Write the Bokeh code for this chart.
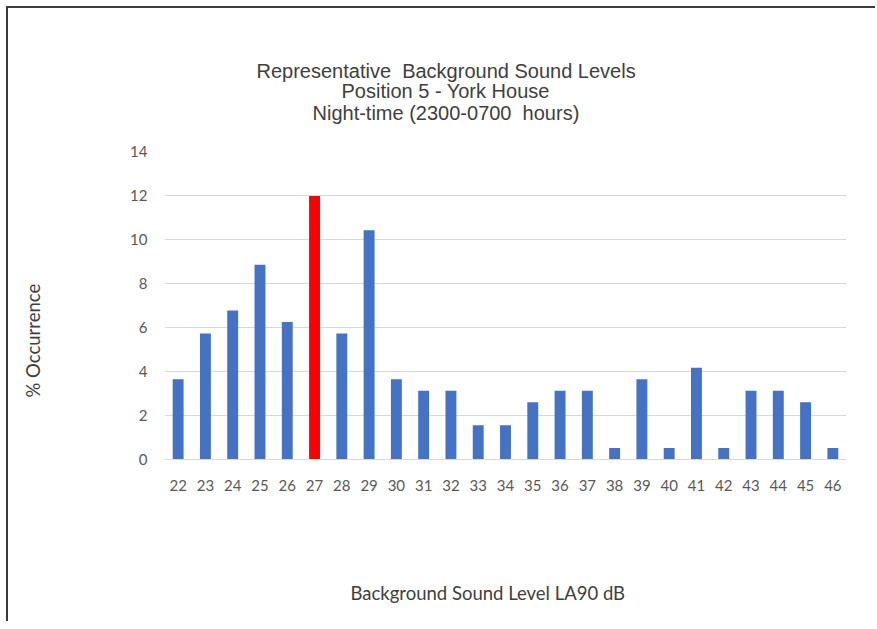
from bokeh.plotting import figure
from bokeh.models import ColumnDataSource, FactorRange, Title, SingleIntervalTicker
from bokeh.embed import file_html
from bokeh.resources import INLINE

# Background sound level bins (LA90, dB) and percentage of night-time samples
levels = ["22", "23", "24", "25", "26", "27", "28", "29", "30", "31", "32", "33", "34",
          "35", "36", "37", "38", "39", "40", "41", "42", "43", "44", "45", "46"]
occurrence = [3.65, 5.73, 6.77, 8.85, 6.25, 11.98, 5.73, 10.42, 3.65, 3.13, 3.13, 1.56, 1.56,
              2.60, 3.13, 3.13, 0.52, 3.65, 0.52, 4.17, 0.52, 3.13, 3.13, 2.60, 0.52]
representative = "27"

title_lines = ["Representative\u00a0 Background Sound Levels",
               "Position 5 - York House",
               "Night-time (2300-0700\u00a0 hours)"]
# left offsets (px from plot-area edge) that centre each heading line on the chart
title_offsets = [92, 177, 148]

x_title = "Background Sound Level LA90 dB"
y_title = "% Occurrence"

BLUE = "#4472C4"
RED = "#FF0000"
colors = [RED if lv == representative else BLUE for lv in levels]

source = ColumnDataSource(dict(level=levels, pct=occurrence, color=colors))

p = figure(
    width=869, height=615,
    x_range=FactorRange(factors=levels, range_padding=0),
    y_range=(0, 14),
    output_backend="svg", toolbar_location=None,
    min_border_left=156, min_border_right=31,
    min_border_top=143, min_border_bottom=164,
)
p.title.visible = False
# chart frame drawn as a border on the plot's host element
p.styles = {"border-left": "2px solid #3a3a3a", "border-top": "2px solid #3a3a3a",
            "margin-left": "6px", "margin-top": "6px"}

p.vbar(x="level", top="pct", width=0.4, source=source,
       fill_color="color", line_color=None)


def spacer(gap):
    """Blank panel that pushes the next title away from the plot area."""
    return Title(text=".", text_font_size="1px", text_color="white", standoff=gap)


# three-line heading, stacked upward from the plot area
p.add_layout(spacer(25), "above")
standoffs = [-4, -4, 0]
for txt, off, so in reversed(list(zip(title_lines, title_offsets, standoffs))):
    p.add_layout(Title(text=txt, align="left", offset=off, text_font="Liberation Sans",
                       text_font_size="20px", text_font_style="normal",
                       text_color="#404040", standoff=so), "above")

# axis titles, placed beyond the tick labels
axis_title_style = dict(text_font="Lato", text_font_size="18.5px",
                        text_font_style="normal", text_color="#404040", standoff=0)
p.add_layout(spacer(81), "left")
p.add_layout(Title(text=y_title, align="left", offset=62, **axis_title_style), "left")
p.add_layout(spacer(83), "below")
p.add_layout(Title(text=x_title, align="left", offset=186, **axis_title_style), "below")

p.outline_line_color = None
p.background_fill_color = "white"
p.border_fill_color = "white"

p.ygrid.grid_line_color = "#D9D9D9"
p.ygrid.grid_line_width = 1
p.xgrid.grid_line_color = None

p.yaxis.ticker = SingleIntervalTicker(interval=2)
p.yaxis.axis_line_color = None
p.yaxis.major_tick_line_color = None
p.yaxis.minor_tick_line_color = None
p.yaxis.major_label_standoff = 11

p.xaxis.axis_line_color = "#D9D9D9"
p.xaxis.major_tick_line_color = None
p.xaxis.minor_tick_line_color = None
p.xaxis.major_label_standoff = 14

for ax in (p.xaxis, p.yaxis):
    ax.major_label_text_font = "Lato"
    ax.major_label_text_font_size = "15px"
    ax.major_label_text_color = "#595959"

open("out.html", "w").write(file_html(p, INLINE))
